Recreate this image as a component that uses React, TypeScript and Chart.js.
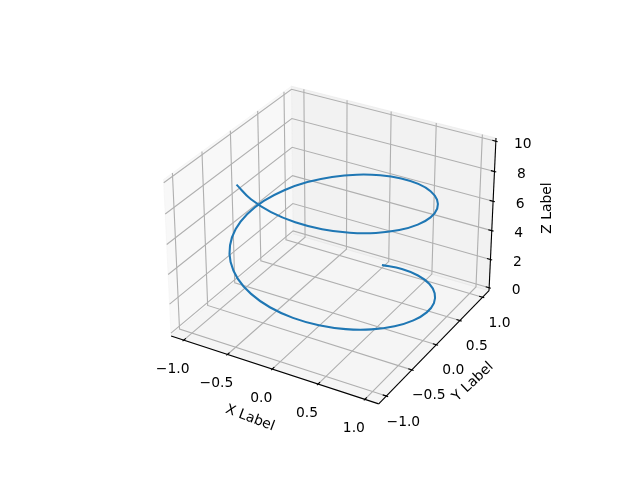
import React, { useEffect, useRef } from "react";
import { Chart, registerables } from "chart.js";

Chart.register(...registerables);

// Helix values
const helixX = [0, .247, .479, .682, .841, .949, .997, .984, .909, .778, .598, .382, .141, -.108, -.351, -.572, -.757, -.895, -.978, -.999, -.959, -.859, -.706, -.508, -.279, -.033, .215, .45, .657, .823, .938, .995, .989, .923, .798, .625, .412, .174, -.075, -.32, -.544];
const helixY = [1, .969, .878, .732, .54, .315, .071, -.178, -.416, -.628, -.801, -.924, -.99, -.994, -.936, -.821, -.654, -.446, -.211, .038, .284, .512, .709, .861, .96, .999, .977, .893, .754, .567, .347, .1, -.146, -.385, -.602, -.78, -.911, -.985, -.997, -.947, -.839];
const helixZ = [0, .25, .5, .75, 1, 1.25, 1.5, 1.75, 2, 2.25, 2.5, 2.75, 3, 3.25, 3.5, 3.75, 4, 4.25, 4.5, 4.75, 5, 5.25, 5.5, 5.75, 6, 6.25, 6.5, 6.75, 7, 7.25, 7.5, 7.75, 8, 8.25, 8.5, 8.75, 9, 9.25, 9.5, 9.75, 10];

const xTicks = [-1, -0.5, 0, 0.5, 1];
const yTicks = [-1, -0.5, 0, 0.5, 1];
const zTicks = [0, 2, 4, 6, 8, 10];
const xTickLabels = ["\u22121.0", "\u22120.5", "0.0", "0.5", "1.0"];
const yTickLabels = ["\u22121.0", "\u22120.5", "0.0", "0.5", "1.0"];
const zTickLabels = ["0", "2", "4", "6", "8", "10"];

const xLim = [-1.1, 1.1];
const yLim = [-1.1, 1.1];
const zLim = [0, 10];

const expand = (l: number[]) => {
  const d = (l[1] - l[0]) / 48;
  return [l[0] - d, l[1] + d];
};
const [x0, x1] = expand(xLim);
const [y0, y1] = expand(yLim);
const [z0, z1] = expand(zLim);

type V = number[];
const norm41 = Math.sqrt(41);
const boxK = (1.8294640721620434 * 25) / 24 / norm41;
const box = [4 * boxK, 4 * boxK, 3 * boxK];
const el = (30 * Math.PI) / 180;
const az = (-60 * Math.PI) / 180;
const dist = 10;
const R = box.map((b) => b / 2);
const dir = [Math.cos(el) * Math.cos(az), Math.cos(el) * Math.sin(az), Math.sin(el)];
const E = R.map((r, i) => r + dist * dir[i]);
const cross = (a: V, b: V) => [a[1] * b[2] - a[2] * b[1], a[2] * b[0] - a[0] * b[2], a[0] * b[1] - a[1] * b[0]];
const dot = (a: V, b: V) => a[0] * b[0] + a[1] * b[1] + a[2] * b[2];
const unit = (a: V) => {
  const n = Math.sqrt(dot(a, a));
  return a.map((c) => c / n);
};
const w = unit(dir);
const u = unit(cross([0, 0, 1], w));
const v = cross(w, u);

function proj(x: number, y: number, z: number) {
  const p = [
    ((x - x0) / (x1 - x0)) * box[0] - E[0],
    ((y - y0) / (y1 - y0)) * box[1] - E[1],
    ((z - z0) / (z1 - z0)) * box[2] - E[2],
  ];
  const d = -dot(w, p);
  return { x: dot(u, p) / d, y: dot(v, p) / d };
}

const line = (pts: V[], color: string, width: number, order: number) => ({
  data: pts.map((p) => proj(p[0], p[1], p[2])),
  showLine: true,
  borderColor: color,
  borderWidth: width,
  pointRadius: 0,
  order,
  tension: 0,
  clip: false as const,
  borderCapStyle: "butt" as const,
});

const pane = (pts: V[], fillC: string, order: number) => ({
  data: [...pts, pts[0]].map((p) => proj(p[0], p[1], p[2])),
  showLine: true,
  borderColor: fillC,
  borderWidth: 1,
  backgroundColor: fillC,
  fill: "shape" as const,
  pointRadius: 0,
  order,
  clip: false as const,
});

const FONT = '13.89px "DejaVu Sans"';

const labelsPlugin = {
  id: "axisText",
  afterDraw(chart: any) {
    const { ctx, scales } = chart;
    const draw = (text: string, px: number, py: number, rot = 0) => {
      ctx.save();
      ctx.translate(px, py);
      ctx.rotate(rot);
      ctx.font = FONT;
      ctx.fillStyle = "#000";
      ctx.textAlign = "center";
      ctx.textBaseline = "middle";
      ctx.fillText(text, 0, 0);
      ctx.restore();
    };
    const at = (x: number, y: number, z: number) => {
      const p = proj(x, y, z);
      return [scales.x.getPixelForValue(p.x), scales.y.getPixelForValue(p.y)];
    };
    xTicks.forEach((t, i) => {
      const [a, b] = at(t, y0, z0);
      draw(xTickLabels[i], a - 11, b + 29);
    });
    yTicks.forEach((t, i) => {
      const [a, b] = at(x1, t, z0);
      draw(yTickLabels[i], a + 17, b + 26);
    });
    zTicks.forEach((t, i) => {
      const [a, b] = at(x1, y1, t);
      draw(zTickLabels[i], a + 27, b + 3);
    });
    draw("X Label", 250, 418, (21 * Math.PI) / 180);
    draw("Y Label", 473, 382, (-43 * Math.PI) / 180);
    draw("Z Label", 547, 208, -Math.PI / 2);
  },
};

export default function App() {
  const ref = useRef<HTMLCanvasElement>(null);
  useEffect(() => {
    document.body.style.margin = "0";
    const datasets: any[] = [];
    // panes
    datasets.push(pane([[x0, y0, z0], [x0, y1, z0], [x0, y1, z1], [x0, y0, z1]], "rgba(242,242,242,0.5)", 6));
    datasets.push(pane([[x0, y1, z0], [x1, y1, z0], [x1, y1, z1], [x0, y1, z1]], "rgba(230,230,230,0.5)", 6));
    datasets.push(pane([[x0, y0, z0], [x1, y0, z0], [x1, y1, z0], [x0, y1, z0]], "rgba(236,236,236,0.5)", 6));
    // grid
    const GRID = "#b0b0b0";
    const LW = 1.11;
    xTicks.forEach((t) => datasets.push(line([[t, y0, z0], [t, y1, z0], [t, y1, z1]], GRID, LW, 5)));
    yTicks.forEach((t) => datasets.push(line([[x1, t, z0], [x0, t, z0], [x0, t, z1]], GRID, LW, 5)));
    zTicks.forEach((t) => datasets.push(line([[x0, y0, t], [x0, y1, t], [x1, y1, t]], GRID, LW, 5)));
    // axes
    datasets.push(line([[x0, y0, z0], [x1, y0, z0]], "#000", LW, 3));
    datasets.push(line([[x1, y0, z0], [x1, y1, z0]], "#000", LW, 3));
    datasets.push(line([[x1, y1, z0], [x1, y1, z1]], "#000", LW, 3));
    // ticks
    const dx = (x1 - x0) / 12;
    const dy = (y1 - y0) / 12;
    xTicks.forEach((t) => datasets.push(line([[t, y0 + 0.2 * dy, z0], [t, y0 - 0.1 * dy, z0]], "#000", LW, 2)));
    yTicks.forEach((t) => datasets.push(line([[x1 - 0.2 * dx, t, z0], [x1 + 0.1 * dx, t, z0]], "#000", LW, 2)));
    zTicks.forEach((t) => datasets.push(line([[x1 - 0.2 * dx, y1, t], [x1 + 0.1 * dx, y1, t]], "#000", LW, 2)));
    // helix
    datasets.push({
      data: helixX.map((x, i) => proj(x, helixY[i], helixZ[i])),
      showLine: true,
      borderColor: "#1f77b4",
      borderWidth: 2.08,
      pointRadius: 0,
      tension: 0.4,
      order: 0,
      clip: false,
    });
    const chart = new Chart(ref.current!, {
      type: "scatter",
      data: { datasets },
      options: {
        animation: false,
        responsive: false,
        layout: { padding: { left: 143.2, right: 127.2, top: 57.6, bottom: 52.8 } },
        plugins: { legend: { display: false }, tooltip: { enabled: false }, title: { display: false } },
        scales: {
          x: { type: "linear", display: false, min: -0.095, max: 0.09 },
          y: { type: "linear", display: false, min: -0.095, max: 0.09 },
        },
      },
      plugins: [labelsPlugin],
    });
    return () => chart.destroy();
  }, []);
  return <canvas ref={ref} width={640} height={480} style={{ display: "block" }} />;
}
